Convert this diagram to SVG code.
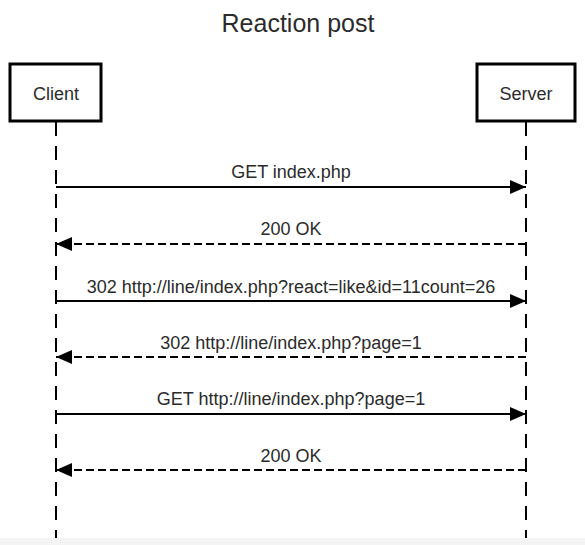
<svg xmlns="http://www.w3.org/2000/svg" width="585" height="545" viewBox="0 0 585 545">
<style>
text{font-family:"Liberation Sans",Arial,sans-serif;fill:#2b2b2b;text-anchor:middle}
.t{font-size:25px}
.l{font-size:18px}
.box{fill:#fff;stroke:#000;stroke-width:3}
.life{stroke:#000;stroke-width:2;stroke-dasharray:14 10;fill:none}
.msg{stroke:#000;stroke-width:2;fill:none}
.ret{stroke:#000;stroke-width:2;stroke-dasharray:8 4;fill:none}
</style>
<defs>
<marker id="ah" markerUnits="userSpaceOnUse" markerWidth="17" markerHeight="15" refX="16" refY="7" orient="auto">
<path d="M0,0 L16,7 L0,14 Z" fill="#000"/>
</marker>
</defs>
<rect width="585" height="545" fill="#fff"/>
<rect x="0" y="538" width="585" height="7" fill="#f4f4f4"/>
<text class="t" x="298" y="32">Reaction post</text>
<g id="lifelines">
<line class="life" x1="56" y1="122" x2="56" y2="538"/>
<line class="life" x1="526" y1="122" x2="526" y2="538"/>
</g>
<g id="client">
<rect class="box" x="10" y="64" width="91" height="57"/>
<text class="l" x="56" y="100">Client</text>
</g>
<g id="server">
<rect class="box" x="477" y="64" width="98" height="57"/>
<text class="l" x="526" y="100">Server</text>
</g>
<g id="connectors">
<line class="msg" x1="56" y1="187" x2="526" y2="187" marker-end="url(#ah)"/>
<text class="l" x="291" y="178">GET index.php</text>
<line class="ret" x1="526" y1="244" x2="56" y2="244" marker-end="url(#ah)"/>
<text class="l" x="291" y="235">200 OK</text>
<line class="msg" x1="56" y1="301" x2="526" y2="301" marker-end="url(#ah)"/>
<text class="l" x="291" y="293">302 http://line/index.php?react=like&amp;id=11count=26</text>
<line class="ret" x1="526" y1="357" x2="56" y2="357" marker-end="url(#ah)"/>
<text class="l" x="291" y="349">302 http://line/index.php?page=1</text>
<line class="msg" x1="56" y1="414" x2="526" y2="414" marker-end="url(#ah)"/>
<text class="l" x="291" y="405">GET http://line/index.php?page=1</text>
<line class="ret" x1="526" y1="470" x2="56" y2="470" marker-end="url(#ah)"/>
<text class="l" x="291" y="462">200 OK</text>
</g>
</svg>
